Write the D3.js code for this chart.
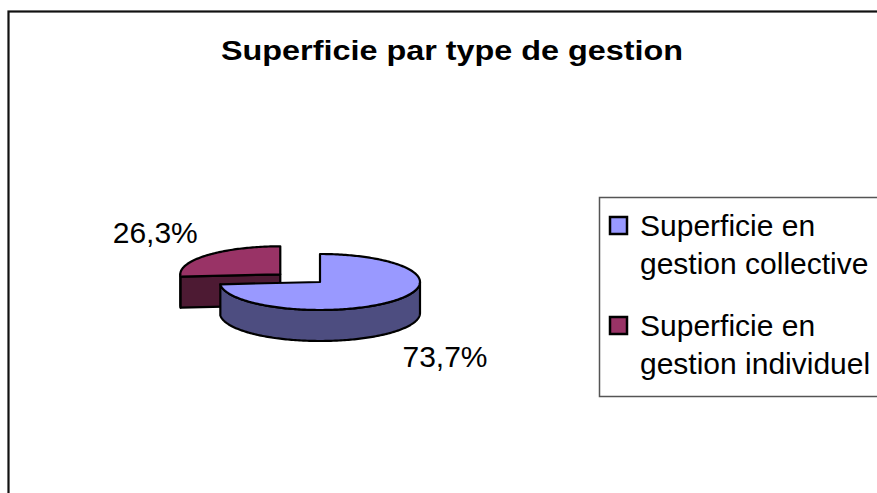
<!DOCTYPE html>
<html><head><meta charset="utf-8">
<script src="https://cdn.jsdelivr.net/npm/d3@7"></script>
<style>html,body{margin:0;padding:0;background:#fff;}svg{display:block;font-family:"Liberation Sans",Arial,sans-serif;}</style>
</head><body>
<svg id="c" width="877" height="493"></svg>
<script>
const title = "Superficie par type de gestion";
const categories = ["Superficie en gestion collective", "Superficie en gestion individuel"];
const legendLines = [["Superficie en", "gestion collective"], ["Superficie en", "gestion individuel"]];
const values = [73.7, 26.3];
const topColors = ["#9999FF", "#993366"];
const sideColors = ["#4D4D80", "#4D1A33"];
const exploded = [0, 0.54];

const svg = d3.select("#c");
svg.append("rect").attr("x", 0).attr("y", 0).attr("width", 877).attr("height", 493).attr("fill", "#fff");
// chart frame (extends beyond the view)
svg.append("rect").attr("x", 8.5).attr("y", 11.5).attr("width", 920).attr("height", 540)
  .attr("fill", "none").attr("stroke", "#111").attr("stroke-width", 2.2);

svg.append("text").attr("x", 452).attr("y", 60).attr("text-anchor", "middle")
  .attr("font-size", 27).attr("font-weight", "bold").attr("fill", "#000")
  .attr("textLength", 462).attr("lengthAdjust", "spacingAndGlyphs").text(title);

// pie geometry
const cx = 320, cy = 282, rx = 100, ry = 28, depth = 31;
const pie = d3.pie().sort(null).startAngle(0).endAngle(2 * Math.PI);
const arcs = pie(values);
const P = (a, ox, oy, dz) => [ox + rx * Math.sin(a), oy - ry * Math.cos(a) + (dz || 0)];
const line = d3.line();

function arcPts(a0, a1, ox, oy, dz) {
  const n = Math.max(2, Math.ceil(Math.abs(a1 - a0) / 0.02));
  const pts = [];
  for (let i = 0; i <= n; i++) pts.push(P(a0 + (a1 - a0) * i / n, ox, oy, dz));
  return pts;
}

const slices = arcs.map((d, i) => {
  const mid = (d.startAngle + d.endAngle) / 2;
  const e = exploded[i];
  return { d, i, mid, ox: cx + Math.sin(mid) * e * rx, oy: cy - Math.cos(mid) * e * ry * 0.75 };
});

// draw back slices first
const order = slices.slice().sort((a, b) => (-Math.cos(a.mid)) - (-Math.cos(b.mid)));
const g = svg.append("g").attr("stroke", "#000").attr("stroke-width", 2.2).attr("stroke-linejoin", "round");
order.forEach(s => {
  const { d, i, ox, oy } = s;
  const a = d.startAngle, b = d.endAngle;
  const lo = Math.max(a, Math.PI / 2), hi = Math.min(b, 3 * Math.PI / 2);
  if (hi > lo) {
    const topE = arcPts(lo, hi, ox, oy, 0);
    const botE = arcPts(hi, lo, ox, oy, depth);
    g.append("path").attr("d", line(topE.concat(botE)) + "Z").attr("fill", sideColors[i]);
  }
  const radial = (ang) => {
    const p = P(ang, ox, oy, 0);
    const pts = [[ox, oy], p, [p[0], p[1] + depth], [ox, oy + depth]];
    g.append("path").attr("d", line(pts) + "Z").attr("fill", sideColors[i]);
  };
  if (Math.sin(a) < -1e-6) radial(a);
  if (Math.sin(b) > 1e-6) radial(b);
  const tp = [[ox, oy]].concat(arcPts(a, b, ox, oy, 0));
  g.append("path").attr("d", line(tp) + "Z").attr("fill", topColors[i]);
});

// data labels
const fmt = v => d3.format(".1f")(v).replace(".", ",") + "%";
slices.forEach(s => {
  const front = -Math.cos(s.mid) > 0;
  const lx = s.ox + Math.sin(s.mid) * 1.7 * rx;
  const ly = s.oy - Math.cos(s.mid) * 2.25 * ry + (front ? depth : 0);
  svg.append("text").attr("x", lx).attr("y", ly + 11).attr("text-anchor", "middle")
    .attr("font-size", 30).attr("fill", "#000").text(fmt(values[s.i]));
});

// legend
svg.append("rect").attr("x", 599.5).attr("y", 197.5).attr("width", 320).attr("height", 199)
  .attr("fill", "#fff").attr("stroke", "#555").attr("stroke-width", 1.5);
categories.forEach((c, i) => {
  const y0 = 217 + i * 100;
  svg.append("rect").attr("x", 610).attr("y", y0).attr("width", 17).attr("height", 17)
    .attr("fill", topColors[i]).attr("stroke", "#000").attr("stroke-width", 2.5);
  legendLines[i].forEach((t, j) => {
    svg.append("text").attr("x", 640).attr("y", y0 + 19 + j * 38)
      .attr("font-size", 30).attr("fill", "#000").text(t);
  });
});
</script>
</body></html>
